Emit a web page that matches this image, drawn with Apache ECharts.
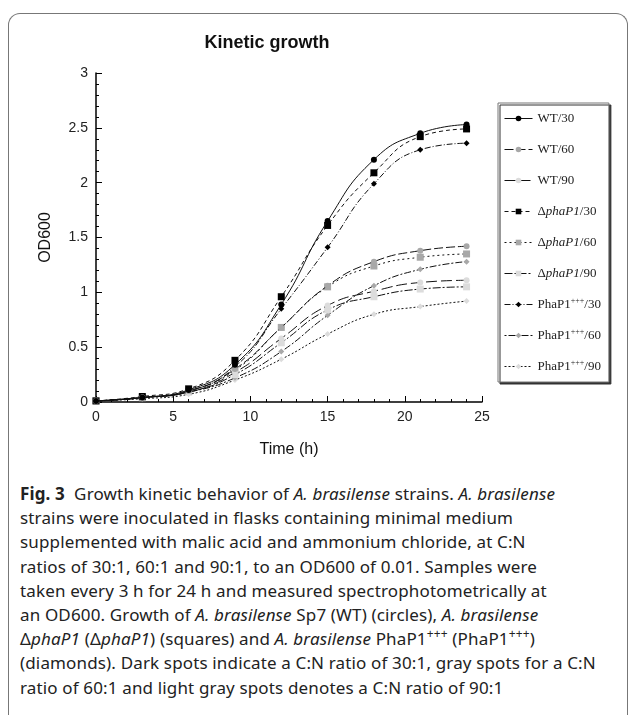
<!DOCTYPE html>
<html>
<head>
<meta charset="utf-8">
<script src="https://cdn.jsdelivr.net/npm/echarts@6/dist/echarts.min.js"></script>
<style>
    body { margin: 0; background: #fff; }
    #card {
        position: absolute; left: 8px; top: 13px; width: 618px; height: 720px;
        border: 1.5px solid #777; border-bottom: none; border-radius: 12px 12px 0 0;
    }
    #chart { position: absolute; left: 0; top: 0; width: 629px; height: 470px; }
    #caption {
        position: absolute; left: 20px; top: 482px; width: 606px;
        font-family: 'Noto Sans', sans-serif; font-size: 17px; line-height: 24.2px;
        letter-spacing: 0.15px; color: #222; white-space: nowrap;
    }
    #caption i { font-style: italic; }
    #caption sup { font-size: 12px; line-height: 0; }
</style>
</head>
<body>
<div id="card"></div>
<div id="chart"></div>
<div id="caption">
<b>Fig. 3</b>&nbsp; Growth kinetic behavior of <i>A. brasilense</i> strains. <i>A. brasilense</i><br>
strains were inoculated in flasks containing minimal medium<br>
supplemented with malic acid and ammonium chloride, at C:N<br>
ratios of 30:1, 60:1 and 90:1, to an OD600 of 0.01. Samples were<br>
taken every 3 h for 24 h and measured spectrophotometrically at<br>
an OD600. Growth of <i>A. brasilense</i> Sp7 (WT) (circles), <i>A. brasilense</i><br>
Δ<i>phaP1</i> (Δ<i>phaP1</i>) (squares) and <i>A. brasilense</i> PhaP1<sup>+++</sup> (PhaP1<sup>+++</sup>)<br>
(diamonds). Dark spots indicate a C:N ratio of 30:1, gray spots for a C:N<br>
ratio of 60:1 and light gray spots denotes a C:N ratio of 90:1
</div>
<script>
// sampling times (h)
const hours = [0, 3, 6, 9, 12, 15, 18, 21, 24];

// OD600 readings, one array per strain / C:N ratio
const wt30 = [0.01, 0.04, 0.11, 0.34, 0.89, 1.65, 2.21, 2.45, 2.53];
const wt60 = [0.01, 0.04, 0.10, 0.30, 0.68, 1.06, 1.28, 1.38, 1.42];
const wt90 = [0.01, 0.04, 0.09, 0.27, 0.58, 0.88, 1.01, 1.09, 1.11];
const dp30 = [0.01, 0.05, 0.12, 0.38, 0.96, 1.61, 2.09, 2.42, 2.49];
const dp60 = [0.01, 0.04, 0.10, 0.29, 0.68, 1.05, 1.24, 1.32, 1.35];
const dp90 = [0.01, 0.04, 0.09, 0.25, 0.54, 0.84, 0.96, 1.03, 1.05];
const ph30 = [0.01, 0.04, 0.10, 0.32, 0.85, 1.41, 1.99, 2.30, 2.36];
const ph60 = [0.01, 0.04, 0.09, 0.22, 0.46, 0.79, 1.06, 1.21, 1.28];
const ph90 = [0.01, 0.03, 0.07, 0.20, 0.39, 0.62, 0.80, 0.87, 0.92];

const seriesNames = ['WT/30', 'WT/60', 'WT/90', 'ΔphaP1/30', 'ΔphaP1/60', 'ΔphaP1/90',
    'PhaP1+++/30', 'PhaP1+++/60', 'PhaP1+++/90'];
const seriesValues = [wt30, wt60, wt90, dp30, dp60, dp90, ph30, ph60, ph90];

const dark = '#000', gray = '#a8a8a8', light = '#dcdcdc';
const looks = [
    { symbol: 'circle', size: 6, color: dark, dash: 'solid' },
    { symbol: 'circle', size: 6, color: gray, dash: [9, 3] },
    { symbol: 'circle', size: 6, color: light, dash: [11, 4] },
    { symbol: 'rect', size: 7, color: dark, dash: [4, 3] },
    { symbol: 'rect', size: 7, color: gray, dash: [2, 3] },
    { symbol: 'rect', size: 7, color: light, dash: [8, 2, 2, 2] },
    { symbol: 'diamond', size: 6, color: dark, dash: [6, 2, 1, 2] },
    { symbol: 'diamond', size: 6, color: gray, dash: [2, 2, 7, 2] },
    { symbol: 'diamond', size: 6, color: light, dash: [2, 2] }
];

var chart = echarts.init(document.getElementById('chart'));

let series = seriesNames.map((name, i) => ({
    name: name,
    type: 'line',
    smooth: true,
    symbol: looks[i].symbol,
    symbolSize: looks[i].size,
    data: hours.map((h, j) => [h, seriesValues[i][j]]),
    itemStyle: { color: looks[i].color, borderWidth: 0 },
    lineStyle: { color: '#111', width: 1, type: looks[i].dash },
    z: 10 - i
}));

//图例文字: 斜体和上标
function legendLabel(name) {
    if (name.indexOf('Δ') === 0) {
        return 'Δ{i|phaP1}' + name.slice(6);
    }
    if (name.indexOf('PhaP1+++') === 0) {
        return 'PhaP1{s|+++}' + name.slice(8);
    }
    return name;
}

const axisFont = { fontFamily: 'Liberation Sans, Arial, sans-serif', fontSize: 14, color: '#222' };

let option = {
    animation: false,
    title: {
        text: 'Kinetic growth',
        left: 262,
        top: 29,
        textAlign: 'center',
        textStyle: { fontFamily: 'Liberation Sans, Arial, sans-serif', fontSize: 18, fontWeight: 'bold', color: '#111' }
    },
    grid: { left: 96, top: 73, width: 386, height: 329 },
    legend: {
        orient: 'vertical',
        left: 498,
        top: 103,
        padding: [8, 8, 8, 6],
        itemGap: 16,
        itemWidth: 28,
        itemHeight: 7,
        backgroundColor: '#fff',
        borderColor: '#777',
        borderWidth: 1,
        shadowColor: '#333',
        shadowOffsetX: 2,
        shadowOffsetY: 2,
        shadowBlur: 0,
        data: seriesNames,
        formatter: legendLabel,
        lineStyle: { width: 1 },
        textStyle: {
            fontFamily: 'Liberation Serif, Times New Roman, serif',
            fontSize: 13,
            color: '#222',
            lineHeight: 15,
            rich: {
                i: { fontFamily: 'Liberation Serif, serif', fontSize: 13, fontStyle: 'italic', color: '#222', lineHeight: 15 },
                s: { fontFamily: 'Liberation Serif, serif', fontSize: 8, verticalAlign: 'top', color: '#222', lineHeight: 15 }
            }
        }
    },
    xAxis: {
        type: 'value',
        min: 0,
        max: 25,
        interval: 5,
        name: 'Time (h)',
        nameLocation: 'middle',
        nameGap: 40,
        nameTextStyle: { fontFamily: 'Liberation Sans, Arial, sans-serif', fontSize: 16, color: '#111' },
        axisLine: { lineStyle: { color: '#000', width: 1.5 } },
        axisTick: { inside: true, length: 6, lineStyle: { color: '#000' } },
        minorTick: { show: true, splitNumber: 5, length: 3, lineStyle: { color: '#000' } },
        axisLabel: axisFont,
        splitLine: { show: false }
    },
    yAxis: {
        type: 'value',
        min: 0,
        max: 3,
        interval: 0.5,
        name: 'OD600',
        nameLocation: 'middle',
        nameGap: 42,
        nameTextStyle: { fontFamily: 'Liberation Sans, Arial, sans-serif', fontSize: 16, color: '#111' },
        axisLine: { show: true, lineStyle: { color: '#000', width: 1.5 } },
        axisTick: { show: true, inside: true, length: 6, lineStyle: { color: '#000' } },
        minorTick: { show: true, splitNumber: 5, length: 3, lineStyle: { color: '#000' } },
        axisLabel: axisFont,
        splitLine: { show: false }
    },
    series: series
};

chart.setOption(option);
</script>
</body>
</html>
